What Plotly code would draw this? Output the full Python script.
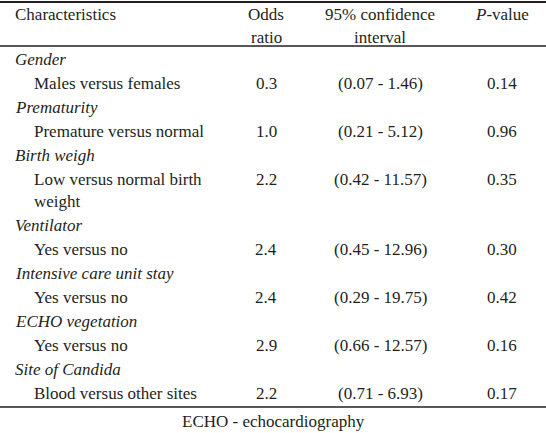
import plotly.graph_objects as go

# ---- data ----
groups = ["Gender", "Prematurity", "Birth weigh", "Ventilator",
          "Intensive care unit stay", "ECHO vegetation", "Site of Candida"]
comparisons = ["Males versus females", "Premature versus normal",
               "Low versus normal birth\nweight", "Yes versus no",
               "Yes versus no", "Yes versus no", "Blood versus other sites"]
odds_ratio = [0.3, 1.0, 2.2, 2.4, 2.4, 2.9, 2.2]
ci_low = [0.07, 0.21, 0.42, 0.45, 0.29, 0.66, 0.71]
ci_high = [1.46, 5.12, 11.57, 12.96, 19.75, 12.57, 6.93]
p_values = [0.14, 0.96, 0.35, 0.30, 0.42, 0.16, 0.17]
header_lines = [["Characteristics", "Odds", "95% confidence", "<i>P</i>-value"],
                ["", "ratio", "interval", ""]]
footnote = "ECHO - echocardiography"

# ---- layout params ----
W, H = 546, 433
FONT = "Liberation Serif"
COL = "#231f20"
FS = 17
x_group, x_sub = 13, 32
x_cols = [266, 380, 502]
y_first = 59
step = 24
hdr_y = [14, 37]
foot_y = 421


def ann(x, y, text, anchor):
    fig.add_annotation(x=x, y=y, xref="x", yref="y", text=text, showarrow=False,
                       xanchor=anchor, yanchor="middle",
                       font=dict(family=FONT, size=FS, color=COL))


fig = go.Figure()
fig.add_trace(go.Scatter(x=[0, W], y=[0, H], mode="markers", marker=dict(opacity=0),
                         hoverinfo="skip"))

y = y_first
for g, c, o, lo, hi, p in zip(groups, comparisons, odds_ratio, ci_low, ci_high, p_values):
    ann(x_group, y, f"<i>{g}</i>", "left")
    y += step
    lines = c.split("\n")
    for xc, t in zip(x_cols, [f"{o:.1f}", f"({lo:.2f} - {hi:.2f})", f"{p:.2f}"]):
        ann(xc, y, t, "center")
    for i, ln in enumerate(lines):
        ann(x_sub, y, ln, "left")
        if i < len(lines) - 1:
            y += step - 2
    y += step

ann(x_group, hdr_y[0], header_lines[0][0], "left")
for li, row in enumerate(header_lines):
    for xc, t in zip(x_cols, row[1:]):
        if t:
            ann(xc, hdr_y[li], t, "center")

ann(W / 2, foot_y, footnote, "center")

for yl in [2, 46, 407]:
    fig.add_shape(type="line", x0=0, x1=W, y0=yl, y1=yl, xref="x", yref="y",
                  line=dict(color=COL, width=2 if yl < 10 else 1.5), layer="above")

fig.update_layout(width=W, height=H, margin=dict(l=0, r=0, t=0, b=0),
                  paper_bgcolor="white", plot_bgcolor="white", showlegend=False,
                  xaxis=dict(range=[0, W], visible=False, fixedrange=True),
                  yaxis=dict(range=[H, 0], visible=False, fixedrange=True))

fig.write_html("out.html", config={"displayModeBar": False, "staticPlot": True},
               post_script="document.body.style.margin='0';document.body.style.overflow='hidden';")
